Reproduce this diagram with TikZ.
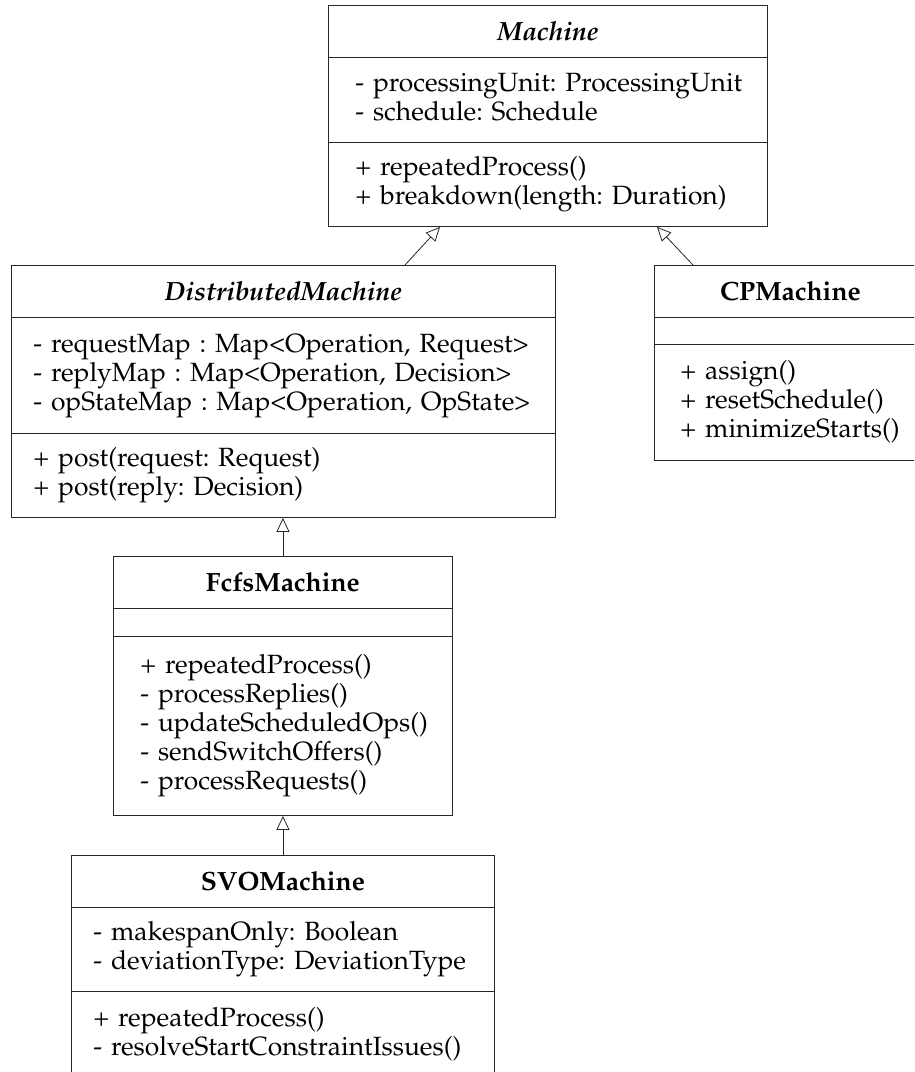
\documentclass[tikz,border=0pt]{standalone}
\usepackage[T1]{fontenc}
\usepackage{mathpazo}
\usetikzlibrary{arrows.meta,calc}
\frenchspacing
% one compartment's lines, kept as an unbreakable block
\newcommand{\classlines}[1]{\begin{tabular}{@{}l@{}}#1\end{tabular}}
\begin{document}
\begin{tikzpicture}[x=1pt,y=-1pt,
  every node/.style={font=\fontsize{26.4}{29}\selectfont\frenchspacing},
  part/.style={draw=black!85, line width=0.9pt, anchor=north west,
    inner xsep=0pt, inner ysep=0pt, align=left},
  head/.style={part, align=center, font=\fontsize{26.4}{29}\selectfont\bfseries},
  inherit/.style={draw=black!85, line width=0.8pt,
    -{Triangle[open,length=14pt,width=13pt]}}]
\useasboundingbox (0,0) rectangle (914,1072);
\clip (0,0) rectangle (914,1072);

% Machine (abstract)
\node[head, minimum width=439pt, minimum height=52pt] (mach-h) at (328,5) {\textit{Machine}};
\node[part, minimum width=439pt, text width=385pt, minimum height=85pt] (mach-a) at (328,57)
  {\classlines{- processingUnit: ProcessingUnit\\- schedule: Schedule}};
\node[part, minimum width=439pt, text width=385pt, minimum height=84pt] (mach-m) at (328,142)
  {\classlines{+ repeatedProcess()\\+ breakdown(length: Duration)}};

% DistributedMachine (abstract)
\node[head, minimum width=544pt, minimum height=52pt] (dm-h) at (11,265) {\textit{DistributedMachine}};
\node[part, minimum width=544pt, text width=500pt, minimum height=116pt] (dm-a) at (11,317)
  {\classlines{- requestMap : Map<Operation, Request>\\- replyMap : Map<Operation, Decision>\\- opStateMap : Map<Operation, OpState>}};
\node[part, minimum width=544pt, text width=500pt, minimum height=84pt] (dm-m) at (11,433)
  {\classlines{+ post(request: Request)\\+ post(reply: Decision)}};

% CPMachine
\node[head, minimum width=272pt, minimum height=52pt] (cp-h) at (654,265) {CPMachine};
\node[part, minimum width=272pt, minimum height=27pt] (cp-a) at (654,317) {};
\node[part, minimum width=272pt, text width=220pt, minimum height=116pt] (cp-m) at (654,344)
  {\classlines{+ assign()\\+ resetSchedule()\\+ minimizeStarts()}};

% FcfsMachine
\node[head, minimum width=339pt, minimum height=52pt] (fcfs-h) at (113,556) {FcfsMachine};
\node[part, minimum width=339pt, minimum height=28pt] (fcfs-a) at (113,608) {};
\node[part, minimum width=339pt, text width=285pt, minimum height=179pt] (fcfs-m) at (113,636)
  {\classlines{+ repeatedProcess()\\- processReplies()\\- updateScheduledOps()\\- sendSwitchOffers()\\- processRequests()}};

% SVOMachine
\node[head, minimum width=423pt, minimum height=52pt] (svo-h) at (71,855) {SVOMachine};
\node[part, minimum width=423pt, text width=379pt, minimum height=84pt] (svo-a) at (71,907)
  {\classlines{- makespanOnly: Boolean\\- deviationType: DeviationType}};
\node[part, minimum width=423pt, text width=379pt, minimum height=87pt] (svo-m) at (71,991)
  {\classlines{+ repeatedProcess()\\- resolveStartConstraintIssues()}};

% generalisations
\draw[inherit] ($(dm-h.north west)+(394,0)$) -- ($(mach-m.south west)+(112,0)$);
\draw[inherit] ($(cp-h.north west)+(39,0)$) -- ($(mach-m.south west)+(329,0)$);
\draw[inherit] (fcfs-h.north) -- (fcfs-h.north |- dm-m.south);
\draw[inherit] (svo-h.north) -- (svo-h.north |- fcfs-m.south);
\end{tikzpicture}
\end{document}
